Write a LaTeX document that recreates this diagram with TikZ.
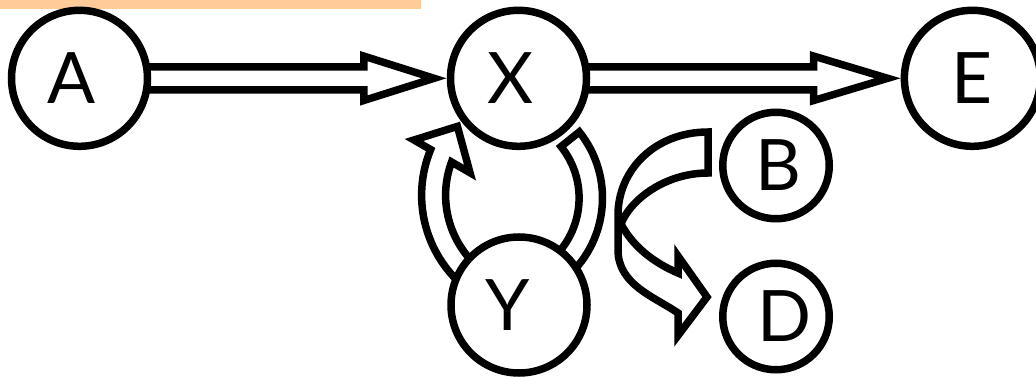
\documentclass[tikz,border=0pt]{standalone}
\usepackage{fontspec}
\setmainfont{Lato}
\usetikzlibrary{calc,backgrounds}
\definecolor{peach}{HTML}{FFCC99}
\begin{document}
\begin{tikzpicture}[x=1pt,y=-1pt,
  circ/.style={circle, draw=black, fill=white, line width=7.5pt, inner sep=0pt,
    font=\fontsize{71}{71}\selectfont},
  big/.style={circ, minimum size=136pt},
  small/.style={circ, minimum size=106.5pt},
  fat/.style={draw=black, fill=white, line width=7.5pt, line join=miter, miter limit=20}]
\useasboundingbox (0,0) rectangle (1036,377);

% nodes
\node[big] (A) at (79.5,78.3) {A\kern16pt};
\node[big] (X) at (518.5,78.3) {X\kern16pt};
\node[big] (E) at (972.4,78.3) {E};
\node[big] (Y) at (519,305) {Y\kern23pt};
\node[small] (B) at (776,165.5) {\kern5pt B};
\node[small] (D) at (776,316.5) {\kern17pt D};

\begin{scope}[on background layer]
  \fill[peach] (0,0) rectangle (421,9.5);

  % A -> X
  \draw[fat] ($(A)+(0,-11.5)$) -- ($(X.west)+(-83,-11.5)$) -- ($(X.west)+(-83,-22.2)$)
     -- ($(X.west)+(-12.7,0)$) -- ($(X.west)+(-83,22.2)$) -- ($(X.west)+(-83,11.5)$)
     -- ($(A)+(0,11.5)$) -- cycle;

  % X -> E
  \draw[fat] ($(X)+(0,-11.5)$) -- ($(E.west)+(-87,-11.5)$) -- ($(E.west)+(-87,-22.2)$)
     -- ($(E.west)+(-13,0)$) -- ($(E.west)+(-87,22.2)$) -- ($(E.west)+(-87,11.5)$)
     -- ($(X)+(0,11.5)$) -- cycle;

  % Y -> X (left arc)
  \coordinate (c1) at ($(Y)+(22.3,-109.8)$);
  \draw[fat] ($(c1)+(130:119.7)$) arc[start angle=130, end angle=202.4, radius=119.7]
     -- ($(X)+(-104.5,61.7)$) -- ($(X)+(-61.1,48.1)$) -- ($(X)+(-48.5,94.4)$)
     -- ($(c1)+(200.3:95.7)$) arc[start angle=200.3, end angle=130, radius=95.7] -- cycle;

  % X -> Y (right arc)
  \coordinate (c2) at ($(X)+(-21.7,119.7)$);
  \draw[fat] ($(c2)+(-38.7:105.7)$) arc[start angle=-38.7, end angle=48, radius=105.7]
     -- ($(c2)+(48:82.3)$) arc[start angle=48, end angle=-38.7, radius=82.3] -- cycle;

  % B -> D
  \begin{scope}[shift={(B)}]
    \draw[fat] (-68,-33.5) .. controls (-121,-33.5) and (-158,4.5) .. (-158,49.5)
       -- (-158,84.5) .. controls (-158,119.5) and (-121,131.5) .. (-98,147.5)
       -- (-98,170) -- (-69,131.5) -- (-98,90.5) -- (-98,107.5)
       .. controls (-124,96.5) and (-144,79.5) .. (-155,58.5)
       .. controls (-146,34.5) and (-111,7.5) .. (-68,7.5) -- cycle;
  \end{scope}
\end{scope}
\end{tikzpicture}
\end{document}
